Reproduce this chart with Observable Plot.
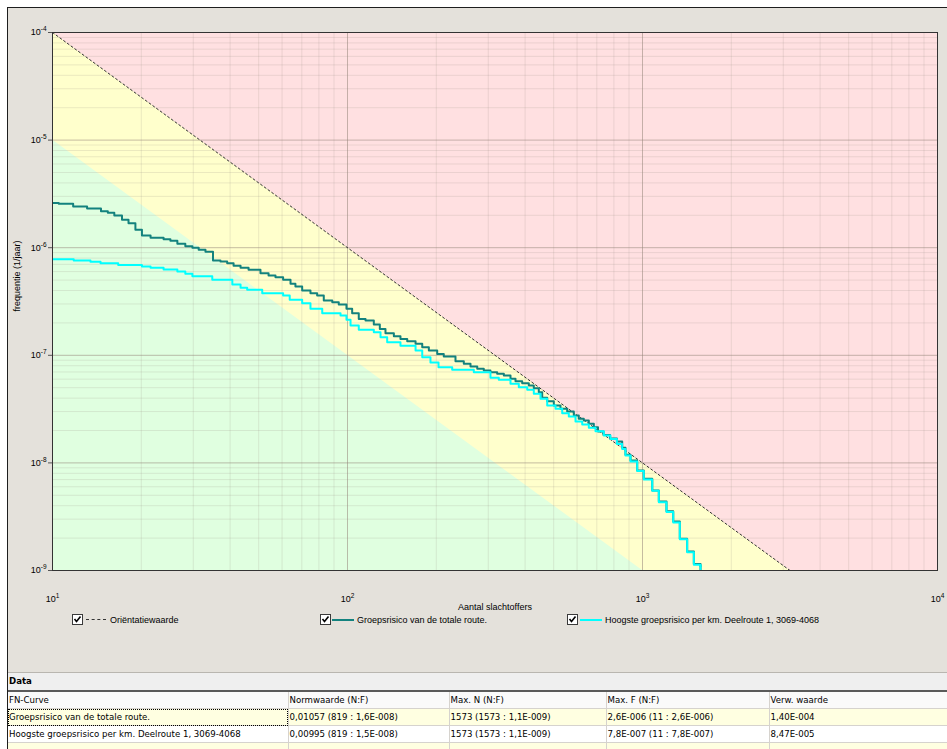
<!DOCTYPE html>
<html><head><meta charset="utf-8">
<script src="https://cdn.jsdelivr.net/npm/d3@7"></script>
<script src="https://cdn.jsdelivr.net/npm/@observablehq/plot@0.6"></script>
<style>
body{margin:0;width:947px;height:749px;position:relative;overflow:hidden;background:#fff;font-family:"Liberation Sans",Arial,sans-serif;}
#panel{position:absolute;left:7px;top:7px;right:0;bottom:0;background:#e4e1db;border-left:1px solid #1e1e1e;border-top:1px solid #1e1e1e;}
#chart{position:absolute;left:0;top:0;}
.leg{position:absolute;top:613px;height:14px;font-size:9px;color:#000;}
.cb{position:absolute;top:1px;width:9px;height:9px;border:1px solid #3a3a3a;background:#fff;}
.cb svg{position:absolute;left:0;top:0;}
.sw{position:absolute;top:6px;}
.lt{position:absolute;top:1px;white-space:nowrap;line-height:12px;}
#table{position:absolute;left:8px;top:672px;width:939px;font-family:"DejaVu Sans",Tahoma,sans-serif;font-size:8.6px;color:#000;}
#table table{border-collapse:collapse;table-layout:fixed;width:939px;}
#table td{padding:0 0 0 1px;height:16px;white-space:nowrap;overflow:hidden;border-right:1px solid #d6d3ce;border-bottom:1px solid #d6d3ce;}
.datahdr{height:17px;background:#efefef;border-top:1px solid #b9b6b0;border-bottom:2px solid #5a5a5a;font-weight:bold;line-height:17px;padding-left:1px;}
</style></head>
<body>
<div id="panel"></div>
<div id="chart"></div>
<div id="legend"></div>
<div id="table"></div>
<script>
// ---------- data ----------
const seriesNames = ["Oriëntatiewaarde", "Groepsrisico van de totale route.", "Hoogste groepsrisico per km. Deelroute 1, 3069-4068"];
const seriesColors = ["#333333", "#13827e", "#00ffff"];

// Orientation value line F = 0.01 / N^2 and the lower (green) boundary one decade below
const orientN = [10, 1000, 10000];
const orientF = [1e-4, 1e-8, 1e-10];
const lowerN = [10, 1000, 10000];
const lowerF = [1e-5, 1e-9, 1e-11];

// Groepsrisico van de totale route (step curve)
const totalN = [10, 10.5, 11.75, 13.1, 14.6, 15.4, 16.2, 17.2, 18.1, 19.1, 20.1, 21.5, 23.8, 25.1, 26.5, 28.2, 29.8, 31.3, 33.0, 35.0, 37.1, 39.1, 41.1, 43.4, 46.2, 50.7, 54.0, 57.0, 60.5, 64.1, 66.6, 70.2, 74.9, 78.9, 83.1, 88.8, 93.4, 99.2, 103.7, 109.2, 115.1, 122.8, 128.7, 134.5, 143.6, 151.2, 159.4, 170.1, 179.2, 188.7, 201.4, 212.0, 232.3, 247.9, 261.2, 275.3, 289.7, 305.2, 321.6, 338.8, 356.9, 371.1, 391.0, 411.7, 428.1, 445.1, 457.1, 475.3, 500.5, 527.2, 555.5, 584.9, 608.2, 632.4, 657.7, 683.9, 706.7, 737.7, 776.1, 819, 853.3, 875.6, 910.7, 959.4, 1010, 1079, 1136, 1206, 1271, 1338, 1417, 1493, 1573];
const totalF = [2.6e-6, 2.56e-6, 2.42e-6, 2.31e-6, 2.18e-6, 2.11e-6, 1.99e-6, 1.82e-6, 1.69e-6, 1.47e-6, 1.30e-6, 1.24e-6, 1.20e-6, 1.16e-6, 1.09e-6, 1.03e-6, 1.0e-6, 9.56e-7, 9.16e-7, 7.60e-7, 7.44e-7, 7.18e-7, 6.79e-7, 6.50e-7, 6.23e-7, 5.79e-7, 5.51e-7, 5.32e-7, 5.03e-7, 4.62e-7, 4.36e-7, 4.00e-7, 3.78e-7, 3.60e-7, 3.23e-7, 3.12e-7, 2.97e-7, 2.71e-7, 2.46e-7, 2.18e-7, 2.11e-7, 1.93e-7, 1.76e-7, 1.60e-7, 1.50e-7, 1.42e-7, 1.35e-7, 1.28e-7, 1.19e-7, 1.11e-7, 1.03e-7, 9.74e-8, 8.81e-8, 8.34e-8, 7.87e-8, 7.49e-8, 7.22e-8, 6.97e-8, 6.73e-8, 6.49e-8, 6.05e-8, 5.74e-8, 5.50e-8, 5.24e-8, 4.94e-8, 4.54e-8, 4.03e-8, 3.74e-8, 3.42e-8, 3.18e-8, 3.00e-8, 2.76e-8, 2.57e-8, 2.48e-8, 2.31e-8, 2.15e-8, 1.96e-8, 1.82e-8, 1.69e-8, 1.58e-8, 1.38e-8, 1.19e-8, 1.05e-8, 8.50e-9, 7.11e-9, 5.54e-9, 4.38e-9, 3.56e-9, 2.85e-9, 1.97e-9, 1.50e-9, 1.15e-9, 1.1e-9];

// Hoogste groepsrisico per km (step curve)
const kmN = [10, 11.8, 13.45, 14.55, 16.7, 20.1, 21.5, 23.8, 26.5, 28.2, 29.8, 34.8, 40.7, 43.4, 45.7, 51.4, 60.5, 63.7, 70.2, 74.9, 82.1, 94.7, 99.2, 102.4, 109.2, 122.8, 129.4, 136.3, 151.2, 170.1, 179.2, 191.1, 203.5, 226.4, 268.0, 305.2, 325.7, 356.9, 380.8, 406.7, 428.1, 451.1, 475.3, 507.2, 534.3, 562.6, 592.8, 624.6, 657.7, 693.0, 739.4, 778.9, 819, 853.3, 875.6, 910.7, 959.4, 1010, 1079, 1136, 1206, 1271, 1338, 1417, 1493, 1573];
const kmF = [7.8e-7, 7.6e-7, 7.4e-7, 7.18e-7, 6.91e-7, 6.69e-7, 6.5e-7, 6.27e-7, 6.01e-7, 5.72e-7, 5.43e-7, 5.03e-7, 4.55e-7, 4.24e-7, 4.06e-7, 3.78e-7, 3.60e-7, 3.28e-7, 3.05e-7, 2.71e-7, 2.46e-7, 2.34e-7, 2.14e-7, 1.89e-7, 1.73e-7, 1.64e-7, 1.47e-7, 1.32e-7, 1.23e-7, 1.11e-7, 9.6e-8, 8.57e-8, 7.75e-8, 7.33e-8, 6.97e-8, 6.18e-8, 5.92e-8, 5.43e-8, 5.05e-8, 4.78e-8, 4.39e-8, 3.94e-8, 3.42e-8, 3.18e-8, 2.90e-8, 2.70e-8, 2.43e-8, 2.28e-8, 2.12e-8, 1.97e-8, 1.80e-8, 1.67e-8, 1.5e-8, 1.35e-8, 1.17e-8, 1.03e-8, 8.4e-9, 7.0e-9, 5.5e-9, 4.3e-9, 3.5e-9, 2.8e-9, 1.95e-9, 1.48e-9, 1.13e-9, 1.1e-9];

const xDomain = [10, 10000];
const yDomain = [1e-9, 1e-4];
const xTicks = [10, 100, 1000, 10000];
const xTickBase = ["10", "10", "10", "10"];
const xTickExp = ["1", "2", "3", "4"];
const yTicks = [1e-9, 1e-8, 1e-7, 1e-6, 1e-5, 1e-4];
const yTickBase = ["10", "10", "10", "10", "10", "10"];
const yTickExp = ["-9", "-8", "-7", "-6", "-5", "-4"];
const xTitle = "Aantal slachtoffers";
const yTitle = "frequentie (1/jaar)";

const tableTitle = "Data";
const tableHeader = ["FN-Curve", "Normwaarde (N:F)", "Max. N (N:F)", "Max. F (N:F)", "Verw. waarde"];
const tableRow1 = ["Groepsrisico van de totale route.", "0,01057 (819 : 1,6E-008)", "1573 (1573 : 1,1E-009)", "2,6E-006 (11 : 2,6E-006)", "1,40E-004"];
const tableRow2 = ["Hoogste groepsrisico per km. Deelroute 1, 3069-4068", "0,00995 (819 : 1,5E-008)", "1573 (1573 : 1,1E-009)", "7,8E-007 (11 : 7,8E-007)", "8,47E-005"];

// ---------- build ----------
const zip = (N, F) => N.map((n, i) => ({N: n, F: F[i], base: yDomain[0] / 1000}));
const orient = zip(orientN, orientF);
const lower = zip(lowerN, lowerF);
const total = zip(totalN, totalF);
const km = zip(kmN, kmF);
const ends = [total[total.length - 1], km[km.length - 1]];

const minorX = [], minorY = [];
for (let e = 1; e < 4; e++) for (let m = 2; m < 10; m++) minorX.push(m * 10 ** e);
for (let e = -9; e < -4; e++) for (let m = 2; m < 10; m++) minorY.push(m * 10 ** e);

const chart = Plot.plot({
  width: 947, height: 660,
  marginLeft: 52, marginRight: 10, marginTop: 32, marginBottom: 90,
  x: {type: "log", domain: xDomain},
  y: {type: "log", domain: yDomain},
  style: {background: "transparent", fontFamily: "'Liberation Sans', Arial, sans-serif", fontSize: "9px", color: "#000"},
  marks: [
    Plot.frame({fill: "#ffe0e1"}),
    Plot.areaY(orient, {x: "N", y1: "base", y2: "F", fill: "#ffffcc", clip: true}),
    Plot.areaY(lower, {x: "N", y1: "base", y2: "F", fill: "#e0ffe0", clip: true}),
    Plot.gridX(minorX, {stroke: "#9a9088", strokeOpacity: 0.2}),
    Plot.gridY(minorY, {stroke: "#9a9088", strokeOpacity: 0.2}),
    Plot.gridX(xTicks, {stroke: "#95857a", strokeOpacity: 0.55}),
    Plot.gridY(yTicks, {stroke: "#95857a", strokeOpacity: 0.55}),
    Plot.line(orient, {x: "N", y: "F", stroke: seriesColors[0], strokeWidth: 1, strokeDasharray: "2,2.6", clip: true}),
    Plot.line(total, {x: "N", y: "F", curve: "step-after", stroke: seriesColors[1], strokeWidth: 2, clip: true}),
    Plot.ruleX([ends[0]], {x: "N", y1: "F", y2: "base", stroke: seriesColors[1], strokeWidth: 2, clip: true}),
    Plot.line(km, {x: "N", y: "F", curve: "step-after", stroke: seriesColors[2], strokeWidth: 2, clip: true}),
    Plot.ruleX([ends[1]], {x: "N", y1: "F", y2: "base", stroke: seriesColors[2], strokeWidth: 2, clip: true}),
    Plot.frame({stroke: "#333"}),
    Plot.axisX({ticks: xTicks, tickFormat: (d) => xTickBase[xTicks.indexOf(d)] + "^" + xTickExp[xTicks.indexOf(d)], tickSize: 0, tickPadding: 25, label: null, fontSize: 9}),
    Plot.axisY({ticks: yTicks, tickFormat: (d) => yTickBase[yTicks.indexOf(d)] + "^" + yTickExp[yTicks.indexOf(d)], tickSize: 4, tickPadding: 2, label: null, fontSize: 9, stroke: "#555"}),
    Plot.text([xTitle], {text: (d) => d, frameAnchor: "bottom", dy: 39, fontSize: 9}),
    Plot.text([yTitle], {text: (d) => d, frameAnchor: "left", rotate: -90, dx: -35, dy: 10, fontSize: 9})
  ]
});
// render "10^e" tick labels as base + raised, smaller exponent
chart.querySelectorAll('g[aria-label$="tick label"] text').forEach((t) => {
  const [base, exp] = t.textContent.split("^");
  t.textContent = base;
  const ts = document.createElementNS("http://www.w3.org/2000/svg", "tspan");
  ts.setAttribute("dy", "-4");
  ts.setAttribute("font-size", "6.5");
  ts.textContent = exp;
  t.appendChild(ts);
});
document.getElementById("chart").appendChild(chart);

// ---------- legend ----------
const legPos = [{cb: 72, sw: 86, swW: 20, tx: 110}, {cb: 320, sw: 332, swW: 22, tx: 357}, {cb: 567, sw: 580, swW: 22, tx: 605}];
const legend = document.getElementById("legend");
seriesNames.forEach((name, i) => {
  const p = legPos[i];
  const item = document.createElement("div");
  item.className = "leg";
  item.style.left = "0px";
  const line = i === 0 ? `border-top:1px dashed ${seriesColors[0]}` : `border-top:2px solid ${seriesColors[i]}`;
  item.innerHTML = `<div class="cb" style="left:${p.cb}px"><svg width="9" height="9"><polyline points="1.5,4 3.5,6.5 7.5,1.5" fill="none" stroke="#000" stroke-width="1.6"/></svg></div>` +
    `<div class="sw" style="left:${p.sw}px;width:${p.swW}px;${line}"></div>` +
    `<div class="lt" style="left:${p.tx}px">${name}</div>`;
  legend.appendChild(item);
});

// ---------- table ----------
const colW = [280, 161, 157, 163, 178];
const rowBg = ["#fafafa", "#ffffe1", "#ffffff", "#ffffe1"];
let html = `<div class="datahdr">${tableTitle}</div><table><colgroup>${colW.map(w => `<col style="width:${w}px">`).join("")}</colgroup>`;
[tableHeader, tableRow1, tableRow2, ["", "", "", "", ""]].forEach((r, ri) => {
  html += `<tr style="background:${rowBg[ri]}">` + r.map((c, ci) => {
    const focus = (ri === 1 && ci === 0) ? ' style="outline:1px dotted #000;outline-offset:-1px"' : "";
    return `<td${focus}>${c}</td>`;
  }).join("") + `</tr>`;
});
html += `</table>`;
document.getElementById("table").innerHTML = html;
</script>
</body></html>
